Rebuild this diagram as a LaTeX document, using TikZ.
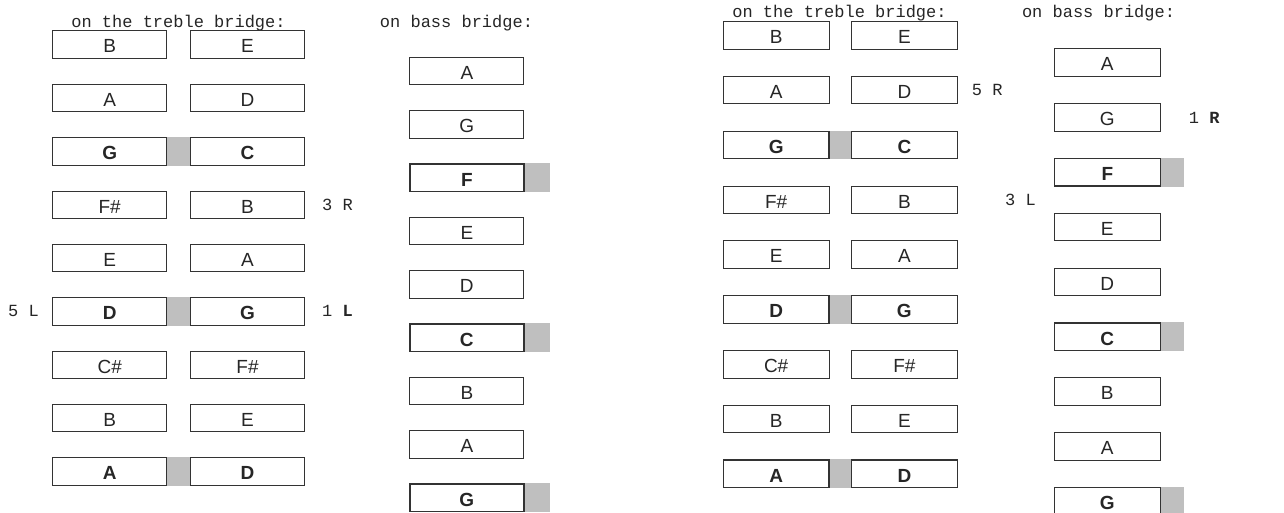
\documentclass[tikz,border=0pt]{standalone}
\usepackage{fontspec}
\setmainfont{Liberation Sans}
\newfontfamily\monof{Liberation Mono}
\usetikzlibrary{calc}
\begin{document}
\begin{tikzpicture}[x=1pt,y=-1pt,
  key/.style={draw=black!80, line width=1pt, fill=white, inner sep=0pt, minimum height=27.5pt, text height=16.5pt, text depth=0pt, font=\fontsize{19}{19}\selectfont, text=black!85},
  keyA/.style={key, minimum width=114pt},
  keyB/.style={key, minimum width=105.7pt},
  weak/.style={},
  strong/.style={font=\fontsize{19}{19}\selectfont\bfseries, line width=1.3pt},
  hatch/.style={fill=gray!50},
  mono/.style={font=\fontsize{17}{17}\selectfont\monof, inner sep=0pt, text=black!85}
]
\useasboundingbox[fill=white] (0,0) rectangle (1284,513);

% ---------- left half ----------
\node[mono, anchor=base] (t1) at (178.5,27.7) {on the treble bridge:};
\node[mono, anchor=base] (t2) at (456.5,27.7) {on bass bridge:};
\foreach \i/\a/\b/\s in {1/B/E/weak,2/A/D/weak,3/G/C/strong,4/F\#/B/weak,5/E/A/weak,6/D/G/strong,7/C\#/F\#/weak,8/B/E/weak,9/A/D/strong}{
  \node[keyA,\s] (la\i) at (109.7,{44.75+53.35*(\i-1)}) {\a};
  \node[keyA,\s] (lb\i) at (247.5,{44.75+53.35*(\i-1)}) {\b};
}
\foreach \i/\a/\s in {1/A/weak,2/G/weak,3/F/strong,4/E/weak,5/D/weak,6/C/strong,7/B/weak,8/A/weak,9/G/strong}{
  \node[keyA,\s] (lc\i) at (466.85,{71.05+53.35*(\i-1)}) {\a};
}
\foreach \i in {3,6,9}{
  \fill[hatch] (la\i.north east) rectangle (lb\i.south west);
  \fill[hatch] (lc\i.north east) rectangle ($(lc\i.south east)+(25,0)$);
}
\node[mono, anchor=west] (l5) at (8,311) {5 L};
\node[mono, anchor=west] (l1) at (322,311) {1 \textbf{L}};
\node[mono, anchor=west] (l3) at (322,204.75) {3 R};

% ---------- right half ----------
\node[mono, anchor=base] (t3) at (839.5,17.5) {on the treble bridge:};
\node[mono, anchor=base] (t4) at (1098.5,17.5) {on bass bridge:};
\foreach \i/\a/\b/\s in {1/B/E/weak,2/A/D/weak,3/G/C/strong,4/F\#/B/weak,5/E/A/weak,6/D/G/strong,7/C\#/F\#/weak,8/B/E/weak,9/A/D/strong}{
  \node[keyB,\s] (ra\i) at (776.15,{35.45+54.8*(\i-1)}) {\a};
  \node[keyB,\s] (rb\i) at (904.35,{35.45+54.8*(\i-1)}) {\b};
}
\foreach \i/\a/\s in {1/A/weak,2/G/weak,3/F/strong,4/E/weak,5/D/weak,6/C/strong,7/B/weak,8/A/weak,9/G/strong}{
  \node[keyB,\s] (rc\i) at (1107.3,{62.75+54.8*(\i-1)}) {\a};
}
\foreach \i in {3,6,9}{
  \fill[hatch] (ra\i.north east) rectangle (rb\i.south west);
  \fill[hatch] (rc\i.north east) rectangle ($(rc\i.south east)+(23.4,0)$);
}
\node[mono, anchor=west] (r5) at (971.7,90.2) {5 R};
\node[mono, anchor=west] (r3) at (1005,199.9) {3 L};
\node[mono, anchor=west] (r1) at (1188.7,117.5) {1 \textbf{R}};
\end{tikzpicture}
\end{document}
